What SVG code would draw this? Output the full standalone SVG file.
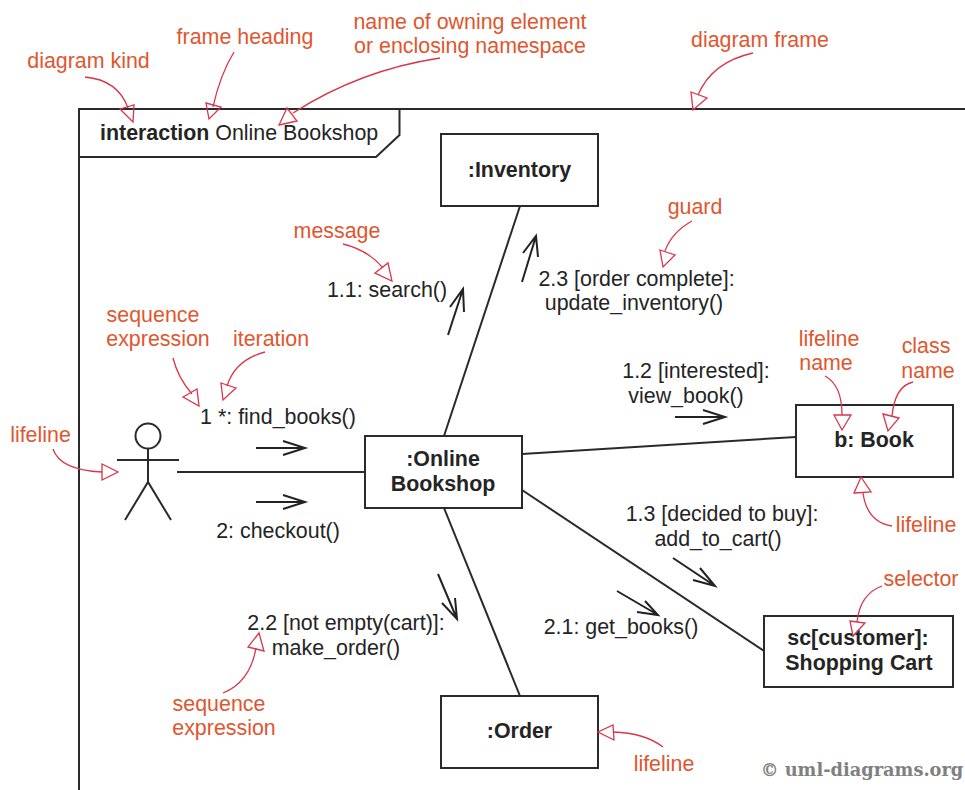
<svg xmlns="http://www.w3.org/2000/svg" width="965" height="790" viewBox="0 0 965 790">
<style>
text{font-family:"Liberation Sans",Arial,sans-serif;font-size:21.400px;fill:#242424;text-anchor:middle}
.b{font-weight:bold}
.n{fill:#e0562f}
.box{fill:#fff;stroke:#2a2a2a;stroke-width:2}
.l{fill:none;stroke:#2a2a2a;stroke-width:2}
.c{fill:none;stroke:#d8364a;stroke-width:1.300}
.h{fill:none;stroke:#d8364a;stroke-width:1.300}
.m{fill:none;stroke:#222;stroke-width:2}
</style>
<rect width="965" height="790" fill="#fff"/>
<g id="frame">
<path class="l" d="M965 109H79V790"/>
<path class="l" d="M399.500 109V135L376 157H79"/>
<text x="100" y="140" style="text-anchor:start"><tspan class="b">interaction</tspan> Online Bookshop</text>
</g>
<g id="connectors">
<path class="l" d="M177 472H365M444 436L520 206M522 454L796 437M522 490L764 651M444 508L520 696"/>
</g>
<g id="messages">
<path class="m" d="M256 448H305M283 441L305 448L283 455"/>
<path class="m" d="M256 502H305M283 495L305 502L283 509"/>
<path class="m" d="M448 335L463 289M450 307L463 289L464 312"/>
<path class="m" d="M522 282L536 236M523 253L536 236L538 257"/>
<path class="m" d="M675 417H725M703 410L725 417L703 424"/>
<path class="m" d="M673 558L715 586M700 568L715 586L693 580"/>
<path class="m" d="M617 591L658 615M645 601L658 615L637 612"/>
<path class="m" d="M438 574L457 619M442 603L457 619L455 598"/>
</g>
<g id="actor">
<circle class="l" cx="148" cy="436" r="12.500"/>
<path class="l" d="M117 460H179M148 449V482M125 520L148 482L171 520"/>
</g>
<g id="inventory"><rect class="box" x="441" y="134" width="157" height="72"/><text class="b" x="519.500" y="177">:Inventory</text></g>
<g id="bookshop"><rect class="box" x="365" y="436" width="157" height="72"/><text class="b" x="443" y="466">:Online</text><text class="b" x="443" y="491">Bookshop</text></g>
<g id="book"><rect class="box" x="796" y="405" width="157" height="72"/><text class="b" x="874" y="447">b: Book</text></g>
<g id="cart"><rect class="box" x="764" y="616" width="189" height="71"/><text class="b" x="858" y="645">sc[customer]:</text><text class="b" x="859" y="670">Shopping Cart</text></g>
<g id="order"><rect class="box" x="441" y="696" width="157" height="72"/><text class="b" x="519.500" y="738">:Order</text></g>
<g id="labels">
<text x="387" y="297">1.1: search()</text>
<text x="636.500" y="286">2.3 [order complete]:</text>
<text x="634" y="310">update_inventory()</text>
<text x="696" y="378">1.2 [interested]:</text>
<text x="686" y="403">view_book()</text>
<text x="278" y="424">1 *: find_books()</text>
<text x="278" y="538">2: checkout()</text>
<text x="722" y="521">1.3 [decided to buy]:</text>
<text x="718" y="546">add_to_cart()</text>
<text x="621" y="634">2.1: get_books()</text>
<text x="346" y="630">2.2 [not empty(cart)]:</text>
<text x="336" y="655">make_order()</text>
</g>
<g id="annotations">
<text class="n" x="88.500" y="68">diagram kind</text>
<text class="n" x="245" y="44">frame heading</text>
<text class="n" x="470" y="29">name of owning element</text>
<text class="n" x="470" y="53">or enclosing namespace</text>
<text class="n" x="760" y="47">diagram frame</text>
<text class="n" x="337" y="238">message</text>
<text class="n" x="695" y="214">guard</text>
<text class="n" x="153" y="322">sequence</text>
<text class="n" x="158" y="346">expression</text>
<text class="n" x="271" y="346">iteration</text>
<text class="n" x="40.500" y="442">lifeline</text>
<text class="n" x="829" y="346">lifeline</text>
<text class="n" x="826" y="370">name</text>
<text class="n" x="926" y="353">class</text>
<text class="n" x="928" y="378">name</text>
<text class="n" x="926" y="532">lifeline</text>
<text class="n" x="921" y="586">selector</text>
<text class="n" x="219" y="711">sequence</text>
<text class="n" x="224" y="735">expression</text>
<text class="n" x="664" y="771">lifeline</text>
<path class="c" d="M85 77Q118 80 128 108"/><path class="h" d="M120 109L134 105L133 122Z"/>
<path class="c" d="M234 52Q220 75 213 107"/><path class="h" d="M206 103L221 107L209 119Z"/>
<path class="c" d="M440 58Q360 70 293 113"/><path class="h" d="M287 108L297 121L279 125Z"/>
<path class="c" d="M753 53Q712 62 698 95"/><path class="h" d="M691 92L707 98L693 110Z"/>
<path class="c" d="M343 244Q368 250 383 268"/><path class="h" d="M375 273L388 263L392 281Z"/>
<path class="c" d="M692 221Q672 232 665 251"/><path class="h" d="M660 250L675 255L663 267Z"/>
<path class="c" d="M173 358Q178 378 192 394"/><path class="h" d="M183 397L197 389L199 406Z"/>
<path class="c" d="M265 352Q235 360 227 386"/><path class="h" d="M221 383L236 388L223 400Z"/>
<path class="c" d="M53 449Q60 470 102 472"/><path class="h" d="M102 464L118 472L102 480Z"/>
<path class="c" d="M825 376Q842 385 842 415"/><path class="h" d="M834 415L851 415L842 430Z"/>
<path class="c" d="M913 382Q895 386 892 416"/><path class="h" d="M883 414L899 418L888 431Z"/>
<path class="c" d="M892 526Q867 522 863 493"/><path class="h" d="M854 493L871 492L861 477Z"/>
<path class="c" d="M882 586Q860 594 857 622"/><path class="h" d="M850 621L865 623L853 636Z"/>
<path class="c" d="M223 693Q250 682 256 648"/><path class="h" d="M248 647L264 651L259 633Z"/>
<path class="c" d="M663 747Q645 733 613 732"/><path class="h" d="M613 725L614 740L598 732Z"/>
</g>
<g id="watermark"><text x="862" y="776" style="font-family:'DejaVu Serif',serif;font-weight:bold;font-size:17.800px;fill:#808080">© uml-diagrams.org</text></g>
</svg>
